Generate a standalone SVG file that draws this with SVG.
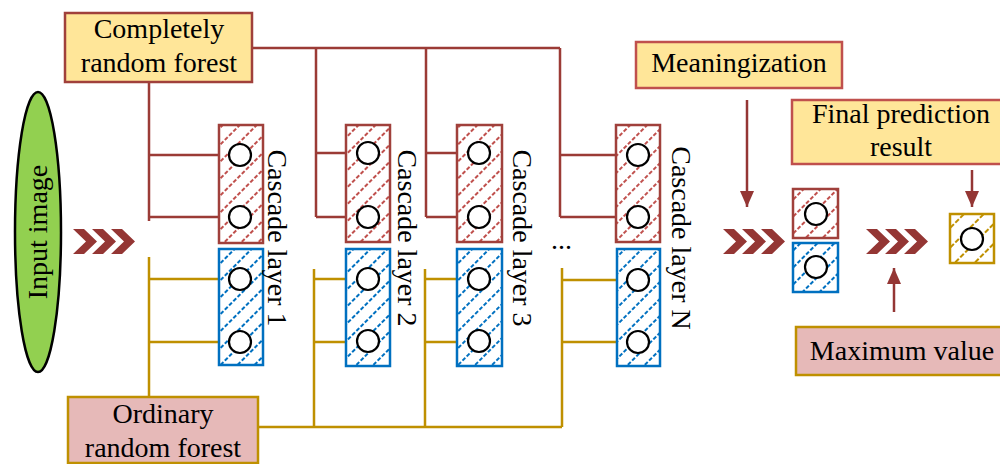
<svg xmlns="http://www.w3.org/2000/svg" width="1000" height="464" viewBox="0 0 1000 464">
<style>
text{font-family:"Liberation Serif","Times New Roman",serif;font-size:28px;fill:#000}
.rl{stroke:#9B3B36;stroke-width:2.5;fill:none}
.gl{stroke:#BF9000;stroke-width:2.5;fill:none}
.cir{fill:#fff;stroke:#000;stroke-width:2.2}
.rbox{fill:url(#hr);stroke:#A0403B;stroke-width:2.5}
.bbox{fill:url(#hb);stroke:#0070C0;stroke-width:2.5}
.ybox{fill:url(#hy);stroke:#BF9000;stroke-width:2.5}
.chev{fill:#943634}
.lab1{fill:#FFE699;stroke:#A0403B;stroke-width:2.5}
.lab2{fill:#FFE699;stroke:#C0504D;stroke-width:2.5}
.lab3{fill:#E6B9B8;stroke:#BF9000;stroke-width:2.5}
.arr{stroke:#943634;stroke-width:2.5;marker-end:url(#ah)}
</style>
<defs>
<pattern id="hr" patternUnits="userSpaceOnUse" width="12" height="12" patternTransform="rotate(-45)">
<rect width="12" height="12" fill="#fff"/>
<line x1="0" y1="6" x2="12" y2="6" stroke="#C0504D" stroke-width="2" stroke-dasharray="4 2"/>
</pattern>
<pattern id="hb" patternUnits="userSpaceOnUse" width="12" height="12" patternTransform="rotate(-45)">
<rect width="12" height="12" fill="#fff"/>
<line x1="0" y1="6" x2="12" y2="6" stroke="#0070C0" stroke-width="2" stroke-dasharray="4 2"/>
</pattern>
<pattern id="hy" patternUnits="userSpaceOnUse" width="14" height="14" patternTransform="rotate(-45)">
<rect width="14" height="14" fill="#fff"/>
<line x1="0" y1="7" x2="14" y2="7" stroke="#BF9000" stroke-width="2" stroke-dasharray="5 2"/>
</pattern>
<marker id="ah" markerWidth="16" markerHeight="14" refX="16" refY="7" orient="auto" markerUnits="userSpaceOnUse" viewBox="0 0 16 14">
<path d="M0,0 L16,7 L0,14 z" fill="#943634"/>
</marker>
<path id="chv" d="M0,0 h11 l13,12.5 l-13,12.5 h-11 l13,-12.5 z"/>
<g id="chevs" class="chev">
<use href="#chv" x="0"/>
<use href="#chv" x="19"/>
<use href="#chv" x="38"/>
</g>
</defs>

<g id="connectors">
<path class="rl" d="M252,48 H560 M149,82 V221 M149,155 H229 M149,217 H229"/>
<path class="rl" d="M316,48 V217 M316,153 H357 M316,217 H357"/>
<path class="rl" d="M426,48 V217 M426,153 H468 M426,217 H468"/>
<path class="rl" d="M560,48 V217 M560,155 H627 M560,217 H627"/>
<path class="gl" d="M149,257 V397 M149,279 H229 M149,342 H229"/>
<path class="gl" d="M258,427 H562 M314,269 V427 M314,279 H357 M314,342 H357"/>
<path class="gl" d="M425,269 V427 M425,279 H468 M425,342 H468"/>
<path class="gl" d="M562,268 V427 M562,280 H627 M562,342 H627"/>
<line class="arr" x1="747" y1="100" x2="747" y2="207"/>
<line class="arr" x1="972" y1="170" x2="972" y2="207"/>
<line class="arr" x1="894" y1="312" x2="894" y2="268"/>
<use href="#chevs" x="73" y="229"/>
<use href="#chevs" x="723" y="229"/>
<use href="#chevs" x="866" y="229"/>
</g>

<g id="input-image">
<ellipse cx="38" cy="232" rx="23" ry="140" fill="#92D050" stroke="#000" stroke-width="2.5"/>
<text transform="translate(47,232) rotate(-90)" text-anchor="middle">Input image</text>
</g>

<g id="completely-random-forest">
<rect class="lab1" x="65" y="13" width="187" height="69"/>
<text x="159" y="38" text-anchor="middle">Completely</text>
<text x="159" y="72" text-anchor="middle">random forest</text>
</g>

<g id="ordinary-random-forest">
<rect class="lab3" x="68" y="397" width="190" height="66"/>
<text x="163" y="423" text-anchor="middle">Ordinary</text>
<text x="163" y="457" text-anchor="middle">random forest</text>
</g>

<g id="cascade-layer-1">
<rect class="rbox" x="219" y="125" width="44" height="118"/>
<rect class="bbox" x="219" y="249" width="44" height="116"/>
<circle class="cir" cx="240" cy="155" r="11"/>
<circle class="cir" cx="240" cy="217" r="11"/>
<circle class="cir" cx="240" cy="279" r="11"/>
<circle class="cir" cx="240" cy="342" r="11"/>
<text transform="translate(268,238) rotate(90)" text-anchor="middle">Cascade layer 1</text>
</g>

<g id="cascade-layer-2">
<rect class="rbox" x="346" y="125" width="44" height="117"/>
<rect class="bbox" x="346" y="249" width="44" height="117"/>
<circle class="cir" cx="368" cy="153" r="11"/>
<circle class="cir" cx="368" cy="217" r="11"/>
<circle class="cir" cx="368" cy="279" r="11"/>
<circle class="cir" cx="368" cy="341" r="11"/>
<text transform="translate(398,238) rotate(90)" text-anchor="middle">Cascade layer 2</text>
</g>

<g id="cascade-layer-3">
<rect class="rbox" x="457" y="125" width="45" height="117"/>
<rect class="bbox" x="457" y="249" width="45" height="117"/>
<circle class="cir" cx="479" cy="153" r="11"/>
<circle class="cir" cx="479" cy="217" r="11"/>
<circle class="cir" cx="479" cy="279" r="11"/>
<circle class="cir" cx="479" cy="341" r="11"/>
<text transform="translate(513,238) rotate(90)" text-anchor="middle">Cascade layer 3</text>
</g>

<g id="ellipsis">
<text x="551" y="249">...</text>
</g>

<g id="cascade-layer-n">
<rect class="rbox" x="616" y="125" width="44" height="117"/>
<rect class="bbox" x="617" y="249" width="43" height="117"/>
<circle class="cir" cx="638" cy="155" r="11"/>
<circle class="cir" cx="638" cy="217" r="11"/>
<circle class="cir" cx="638" cy="280" r="11"/>
<circle class="cir" cx="638" cy="342" r="11"/>
<text transform="translate(672,238) rotate(90)" text-anchor="middle">Cascade layer N</text>
</g>

<g id="meaningization">
<rect class="lab2" x="636" y="42" width="206" height="46"/>
<text x="739" y="72" text-anchor="middle">Meaningization</text>
</g>

<g id="mean-output">
<rect class="rbox" x="793" y="189" width="45" height="49"/>
<rect class="bbox" x="793" y="243" width="45" height="49"/>
<circle class="cir" cx="816" cy="214" r="11"/>
<circle class="cir" cx="816" cy="267" r="11"/>
</g>

<g id="final-prediction-result">
<rect class="lab2" x="792" y="100" width="220" height="64"/>
<text x="901" y="123" text-anchor="middle">Final prediction</text>
<text x="901" y="156" text-anchor="middle">result</text>
</g>

<g id="final-output">
<rect class="ybox" x="950" y="214" width="44" height="49"/>
<circle class="cir" cx="972" cy="239" r="11"/>
</g>

<g id="maximum-value">
<rect class="lab3" x="796" y="327" width="216" height="48"/>
<text x="902" y="360" text-anchor="middle">Maximum value</text>
</g>
</svg>
